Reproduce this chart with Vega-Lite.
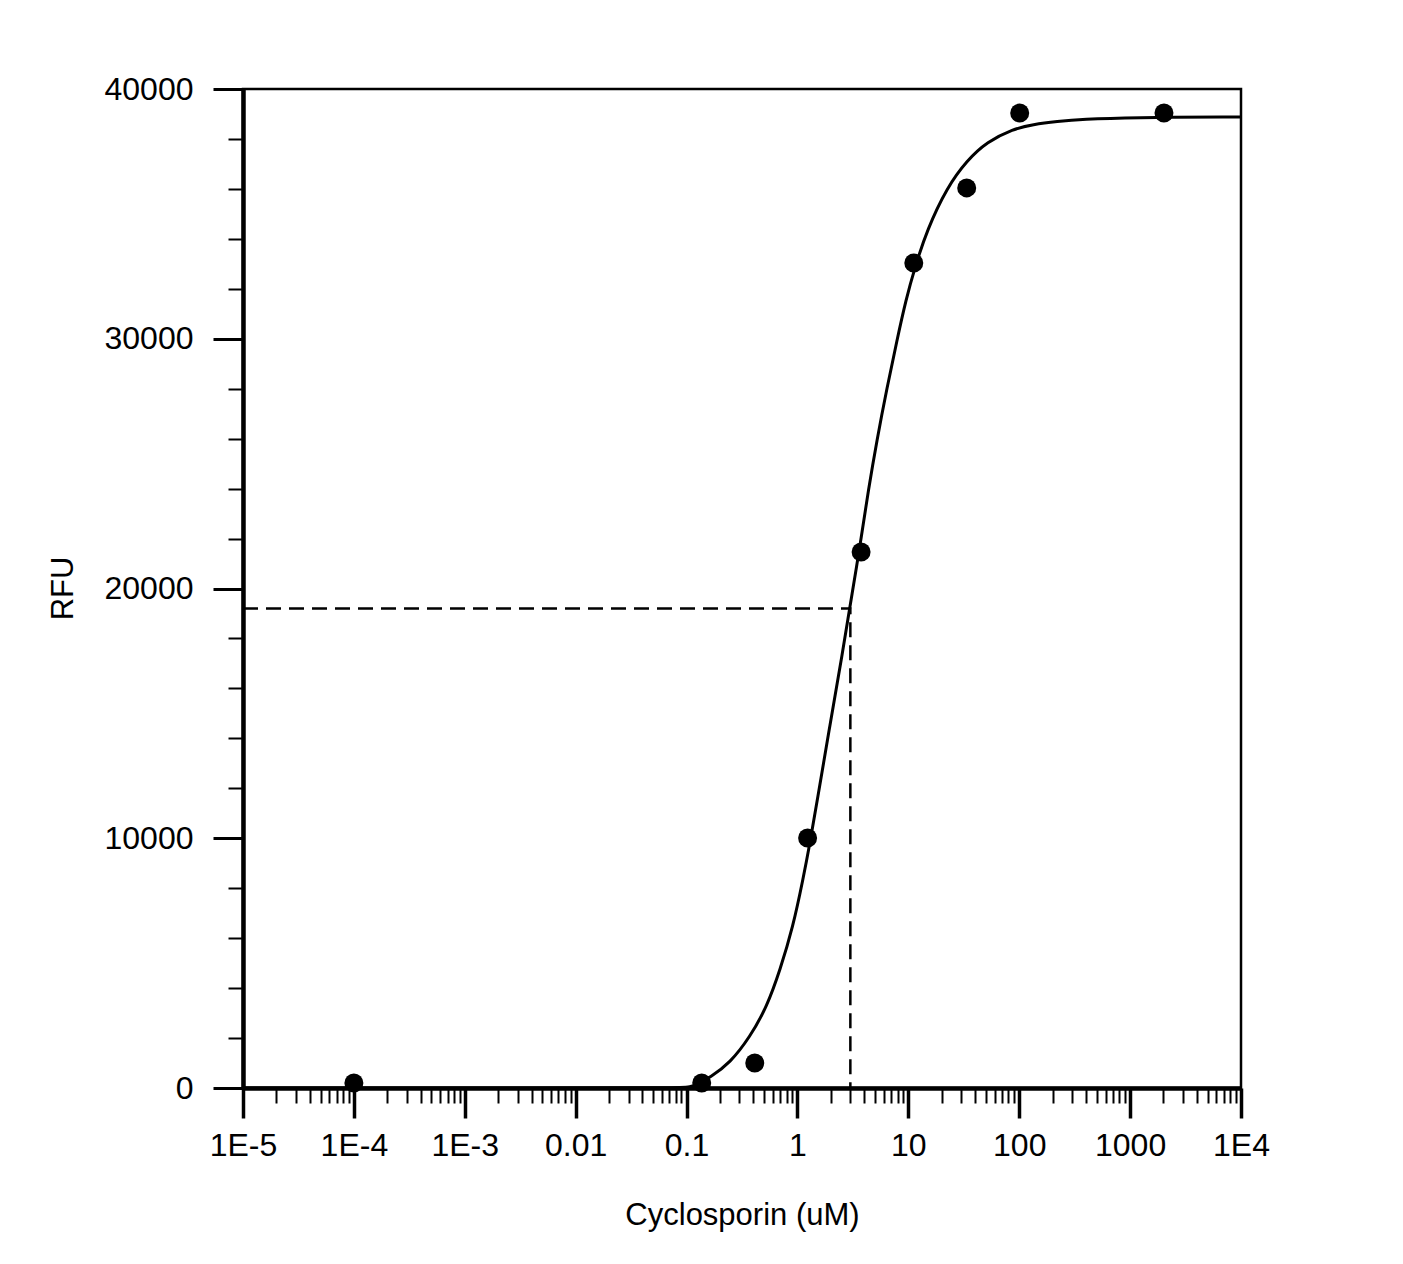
{
  "$schema": "https://vega.github.io/schema/vega-lite/v6.json",
  "description": "RFU vs Cyclosporin concentration, dose-response curve",
  "autosize": "none",
  "padding": {"left": 243, "top": 89, "right": 162, "bottom": 176},
  "width": 998,
  "height": 999,
  "background": "white",
  "config": {
    "view": {"stroke": "black", "strokeWidth": 2.5},
    "font": "Liberation Sans",
    "axis": {
      "grid": false,
      "domainColor": "black",
      "domainWidth": 4.5,
      "tickColor": "black",
      "labelColor": "black",
      "titleColor": "black",
      "labelFont": "Liberation Sans",
      "titleFont": "Liberation Sans",
      "labelFontSize": 32,
      "titleFontSize": 31,
      "titleFontWeight": "normal"
    }
  },
  "datasets": {
    "points": [
      {"conc": 0.0001, "rfu": 200},
      {"conc": 0.137, "rfu": 200},
      {"conc": 0.412, "rfu": 1000},
      {"conc": 1.235, "rfu": 10010},
      {"conc": 3.75, "rfu": 21460},
      {"conc": 11.2, "rfu": 33030},
      {"conc": 33.6, "rfu": 36040},
      {"conc": 101, "rfu": 39040},
      {"conc": 2020, "rfu": 39040}
    ],
    "curve": [
      {"conc": 0.00001, "rfu": 0},
      {"conc": 0.01, "rfu": 0},
      {"conc": 0.08, "rfu": 0},
      {"conc": 0.11, "rfu": 40},
      {"conc": 0.124, "rfu": 150},
      {"conc": 0.1626, "rfu": 420},
      {"conc": 0.2466, "rfu": 1000},
      {"conc": 0.3733, "rfu": 2040},
      {"conc": 0.5309, "rfu": 3260},
      {"conc": 0.6966, "rfu": 4720},
      {"conc": 0.912, "rfu": 6450},
      {"conc": 1.122, "rfu": 8350},
      {"conc": 1.297, "rfu": 9810},
      {"conc": 1.5, "rfu": 11450},
      {"conc": 1.963, "rfu": 14530},
      {"conc": 2.576, "rfu": 17540},
      {"conc": 2.917, "rfu": 19060},
      {"conc": 3.443, "rfu": 20960},
      {"conc": 3.82, "rfu": 22240},
      {"conc": 4.325, "rfu": 23840},
      {"conc": 5.21, "rfu": 25950},
      {"conc": 6.43, "rfu": 28050},
      {"conc": 7.91, "rfu": 29950},
      {"conc": 9.5, "rfu": 31550},
      {"conc": 11.48, "rfu": 32870},
      {"conc": 14.73, "rfu": 34350},
      {"conc": 22.32, "rfu": 36060},
      {"conc": 33.8, "rfu": 37140},
      {"conc": 51.2, "rfu": 37880},
      {"conc": 87.9, "rfu": 38400},
      {"conc": 133, "rfu": 38580},
      {"conc": 219, "rfu": 38700},
      {"conc": 376, "rfu": 38790},
      {"conc": 1000, "rfu": 38860},
      {"conc": 10000, "rfu": 38880}
    ],
    "dash": [
      {"conc": 0.00001, "rfu": 19200, "step": 1},
      {"conc": 3.0, "rfu": 19200, "step": 2},
      {"conc": 3.0, "rfu": 0, "step": 3}
    ]
  },
  "layer": [
    {
      "data": {"name": "dash"},
      "mark": {"type": "line", "color": "black", "strokeWidth": 2.5, "strokeDash": [15, 8]},
      "encoding": {
        "x": {
          "field": "conc",
          "type": "quantitative",
          "title": "Cyclosporin (uM)",
          "scale": {"type": "log", "domain": [0.00001, 10000], "nice": false},
          "axis": {
            "values": [
              0.00001, 0.00002, 0.00003, 0.00004, 0.00005, 0.00006, 0.00007, 0.00008, 0.00009,
              0.0001, 0.0002, 0.0003, 0.0004, 0.0005, 0.0006, 0.0007, 0.0008, 0.0009,
              0.001, 0.002, 0.003, 0.004, 0.005, 0.006, 0.007, 0.008, 0.009,
              0.01, 0.02, 0.03, 0.04, 0.05, 0.06, 0.07, 0.08, 0.09,
              0.1, 0.2, 0.3, 0.4, 0.5, 0.6, 0.7, 0.8, 0.9,
              1, 2, 3, 4, 5, 6, 7, 8, 9,
              10, 20, 30, 40, 50, 60, 70, 80, 90,
              100, 200, 300, 400, 500, 600, 700, 800, 900,
              1000, 2000, 3000, 4000, 5000, 6000, 7000, 8000, 9000,
              10000
            ],
            "labelExpr": "abs(log(datum.value)/LN10 - round(log(datum.value)/LN10)) < 0.000001 ? ((round(log(datum.value)/LN10) <= -3 || round(log(datum.value)/LN10) >= 4) ? '1E' + round(log(datum.value)/LN10) : format(datum.value, '~g')) : ''",
            "tickSize": {
              "condition": {"test": "abs(log(datum.value)/LN10 - round(log(datum.value)/LN10)) > 0.000001", "value": 15},
              "value": 30
            },
            "tickWidth": {
              "condition": {"test": "abs(log(datum.value)/LN10 - round(log(datum.value)/LN10)) > 0.000001", "value": 2},
              "value": 3.5
            },
            "labelPadding": 12,
            "labelFlush": false,
            "labelOverlap": false,
            "titleX": 499,
            "titleY": 127,
            "titleBaseline": "middle",
            "titleAlign": "center"
          }
        },
        "y": {
          "field": "rfu",
          "type": "quantitative",
          "title": "RFU",
          "scale": {"domain": [0, 40000], "nice": false},
          "axis": {
            "values": [0, 2000, 4000, 6000, 8000, 10000, 12000, 14000, 16000, 18000, 20000, 22000, 24000, 26000, 28000, 30000, 32000, 34000, 36000, 38000, 40000],
            "labelExpr": "datum.value % 10000 === 0 ? format(datum.value, 'd') : ''",
            "tickSize": {
              "condition": {"test": "datum.value % 10000 !== 0", "value": 15},
              "value": 30
            },
            "tickWidth": {
              "condition": {"test": "datum.value % 10000 !== 0", "value": 2},
              "value": 3
            },
            "labelPadding": 20,
            "labelFlush": false,
            "labelOverlap": false,
            "titleX": -180,
            "titleY": 499,
            "titleAngle": -90,
            "titleBaseline": "middle",
            "titleAlign": "center"
          }
        },
        "order": {"field": "step", "type": "quantitative"}
      }
    },
    {
      "data": {"name": "curve"},
      "mark": {"type": "line", "color": "black", "strokeWidth": 3, "interpolate": "basis"},
      "encoding": {
        "x": {"field": "conc", "type": "quantitative"},
        "y": {"field": "rfu", "type": "quantitative"}
      }
    },
    {
      "data": {"name": "points"},
      "mark": {"type": "circle", "color": "black", "opacity": 1, "size": 360},
      "encoding": {
        "x": {"field": "conc", "type": "quantitative"},
        "y": {"field": "rfu", "type": "quantitative"}
      }
    }
  ]
}
